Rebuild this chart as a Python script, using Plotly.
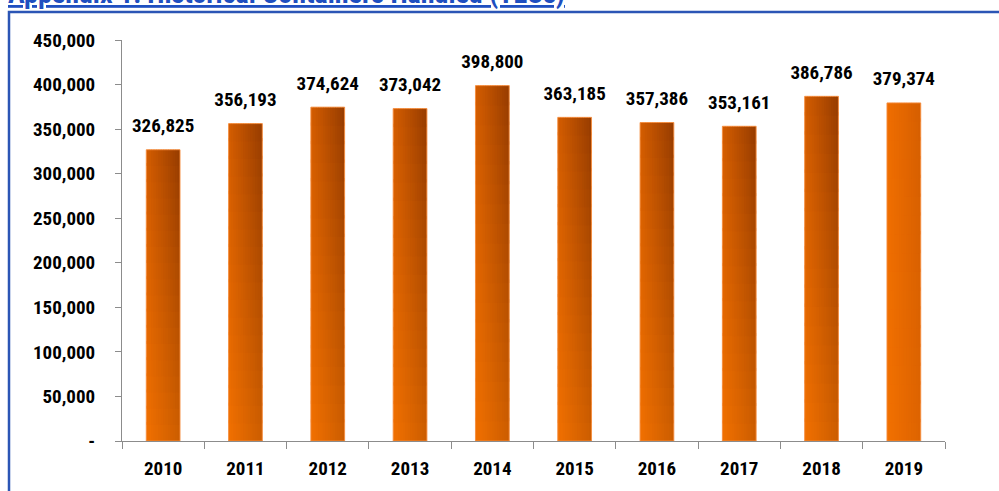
import plotly.graph_objects as go

# ---- data ----
years = ["2010", "2011", "2012", "2013", "2014", "2015", "2016", "2017", "2018", "2019"]
teus = [326825, 356193, 374624, 373042, 398800, 363185, 357386, 353161, 386786, 379374]
y_tick_vals = [0, 50000, 100000, 150000, 200000, 250000, 300000, 350000, 400000, 450000]
y_tick_text = ["-", "50,000", "100,000", "150,000", "200,000", "250,000", "300,000",
               "350,000", "400,000", "450,000"]
title_text = "Appendix 1: Historical Containers Handled (TEUs)"

# ---- style ----
FONT = "Roboto Condensed, Liberation Sans Narrow, Roboto, sans-serif"
BAR_W = 0.41
NX, NY = 14, 18
# corner colours (bottom-left, bottom-right, top-left, top-right)
normal = [(242, 113, 0), (205, 94, 0), (212, 93, 0), (150, 60, 0)]
last = [(242, 113, 0), (222, 100, 0), (240, 110, 0), (214, 95, 0)]
corner_sets = [normal] * (len(years) - 1) + [last]


def lerp(a, b, t):
    return tuple(a[k] + (b[k] - a[k]) * t for k in range(3))


def colour(c, u, v):
    bottom = lerp(c[0], c[1], u)
    top = lerp(c[2], c[3], u)
    r, g, b = lerp(bottom, top, v)
    return f"rgb({int(r)},{int(g)},{int(b)})"


fig = go.Figure()
cw = BAR_W / NX
for j in range(NY):
    f0 = j / NY
    f1 = min(1.0, (j + 1) / NY + 0.01)
    for i in range(NX):
        off = -BAR_W / 2 + i * cw
        w = cw + (0.012 if i < NX - 1 else 0)
        u = (i + 0.5) / NX
        v = (j + 0.5) / NY
        fig.add_trace(go.Bar(
            x=years,
            y=[t * (f1 - f0) for t in teus],
            base=[t * f0 for t in teus],
            width=w,
            offset=off,
            marker=dict(color=[colour(c, u, v) for c in corner_sets], line=dict(width=0)),
            hoverinfo="skip",
            showlegend=False,
        ))

# outline
fig.add_trace(go.Bar(
    x=years,
    y=teus,
    width=BAR_W,
    marker=dict(color="rgba(0,0,0,0)", line=dict(color="rgba(245,140,60,0.9)", width=1)),
    hoverinfo="skip",
    showlegend=False,
))

# value labels
fig.add_trace(go.Scatter(
    x=years,
    y=teus,
    mode="markers+text",
    marker=dict(size=19, opacity=0),
    text=[f"{t:,}" for t in teus],
    textposition="top center",
    textfont=dict(family=FONT, size=19, color="black", weight="bold"),
    cliponaxis=False,
    hoverinfo="skip",
    showlegend=False,
))

fig.update_layout(
    width=999,
    height=491,
    margin=dict(l=122, r=54, t=40, b=50),
    barmode="overlay",
    paper_bgcolor="white",
    plot_bgcolor="white",
    font=dict(family=FONT, color="black"),
    xaxis=dict(
        type="category",
        showline=True, linecolor="#8c8c8c", linewidth=1,
        ticks="outside", tickson="boundaries", ticklen=7, tickcolor="#8c8c8c",
        tickfont=dict(family=FONT, size=19, color="black", weight="bold"),
        ticklabelstandoff=10,
        showgrid=False, zeroline=False,
        range=[-0.5, len(years) - 0.5],
    ),
    yaxis=dict(
        range=[0, 450000],
        tickvals=y_tick_vals, ticktext=y_tick_text,
        showline=True, linecolor="#8c8c8c", linewidth=1,
        ticks="outside", ticklen=6, tickcolor="#8c8c8c",
        tickfont=dict(family=FONT, size=19, color="black", weight="bold"),
        ticklabelstandoff=16,
        showgrid=False, zeroline=False,
    ),
    shapes=[dict(
        type="rect", xref="paper", yref="paper",
        x0=(9 - 122) / 823, x1=1.2, y0=-0.3, y1=(441 - 12) / 401,
        line=dict(color="#2B55B5", width=2.5), fillcolor="rgba(0,0,0,0)", layer="below",
    )],
    annotations=[dict(
        text=f"<u>{title_text}</u>", xref="paper", yref="paper",
        x=(6 - 122) / 823, xanchor="left", y=(441 - 12) / 401, yanchor="bottom",
        showarrow=False,
        font=dict(family=FONT, size=28, color="#1F4FC0", weight="bold"),
    )],
)

fig.write_html("out.html", config={"displayModeBar": False},
               post_script="document.body.style.margin='0';")
